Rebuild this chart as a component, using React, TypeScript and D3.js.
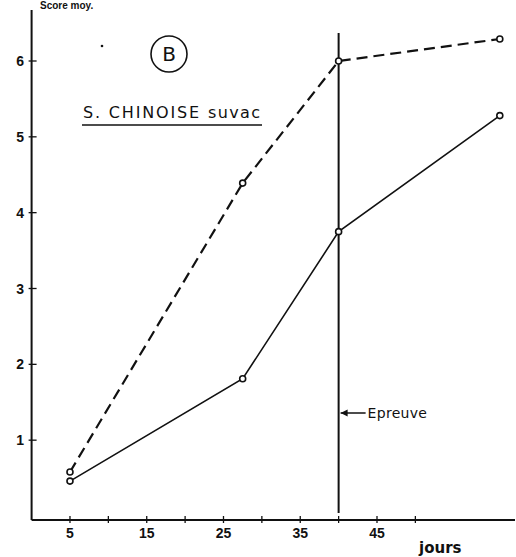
import React from "react";
import * as d3 from "d3";

const days = [5, 27.5, 40, 61];
const dashedSeries = [0.58, 4.39, 6.0, 6.29];
const solidSeries = [0.46, 1.81, 3.75, 5.28];
const yTicks = [1, 2, 3, 4, 5, 6];
const xMinorTicks = [5, 10, 15, 20, 25, 30, 35, 40, 45, 50];
const xLabelTicks = [5, 15, 25, 35, 45];
const challengeDay = 40;

const W = 516;
const H = 557;

export default function App() {
  const x = d3.scaleLinear().domain([0, 45]).range([31.6, 377]);
  const y = d3.scaleLinear().domain([0, 6]).range([516, 61]);
  const axisY = 520;
  const line = d3
    .line<number>()
    .x((_, i) => x(days[i]))
    .y((v) => y(v));
  const font = "'Liberation Sans', 'DejaVu Sans', Arial, sans-serif";
  const wide = "'DejaVu Sans', 'Liberation Sans', Arial, sans-serif";
  return (
    <div style={{ position: "fixed", left: 0, top: 0 }}>
      <svg width={W} height={H} style={{ display: "block", background: "#fff" }} fontFamily={font}>
        {/* top label (cut off in the source scan) */}
        <text x={40} y={9} fontSize={10} fontWeight="bold" fill="#111">
          Score moy.
        </text>
        {/* axes */}
        <line x1={x(0)} x2={x(0)} y1={10} y2={axisY} stroke="#111" strokeWidth={2} />
        <line x1={x(0)} x2={515} y1={axisY} y2={axisY} stroke="#111" strokeWidth={2} />
        {yTicks.map((t) => (
          <g key={"y" + t}>
            <line x1={x(0) - 3} x2={x(0) + 5} y1={y(t)} y2={y(t)} stroke="#111" strokeWidth={1.3} />
            <text x={24} y={y(t) + 5} fontSize={14} fontWeight="bold" textAnchor="end" fill="#111">
              {t}
            </text>
          </g>
        ))}
        {xMinorTicks.map((t) => (
          <line key={"x" + t} x1={x(t)} x2={x(t)} y1={axisY - 4} y2={axisY + 3} stroke="#111" strokeWidth={1.3} />
        ))}
        {xLabelTicks.map((t) => (
          <text key={"xl" + t} x={x(t)} y={axisY + 18} fontSize={14} fontWeight="bold" textAnchor="middle" fill="#111">
            {t}
          </text>
        ))}
        <text x={419} y={553} fontSize={15} fontWeight="bold" fill="#111" fontFamily={wide}>
          jours
        </text>
        {/* challenge line */}
        <line x1={x(challengeDay)} x2={x(challengeDay)} y1={33} y2={513} stroke="#111" strokeWidth={2} />
        <line x1={x(challengeDay) + 2} x2={x(challengeDay) + 27} y1={413} y2={413} stroke="#111" strokeWidth={1.5} />
        <path d={`M${x(challengeDay) + 2},413 l7,-3.5 l0,7 z`} fill="#111" />
        <text x={x(challengeDay) + 29} y={418} fontSize={14} fill="#111" fontFamily={wide} letterSpacing={0.3}>
          Epreuve
        </text>
        {/* series */}
        <path d={line(dashedSeries) || ""} fill="none" stroke="#111" strokeWidth={2.2} strokeDasharray="11,6" />
        <path d={line(solidSeries) || ""} fill="none" stroke="#111" strokeWidth={1.6} />
        {dashedSeries.map((v, i) => (
          <circle key={"d" + i} cx={x(days[i])} cy={y(v)} r={3} fill="#fff" stroke="#111" strokeWidth={1.6} />
        ))}
        {solidSeries.map((v, i) => (
          <circle key={"s" + i} cx={x(days[i])} cy={y(v)} r={3} fill="#fff" stroke="#111" strokeWidth={1.6} />
        ))}
        {/* annotations */}
        <circle cx={169} cy={54} r={18} fill="none" stroke="#111" strokeWidth={1.6} />
        <text x={169} y={61} fontSize={20} textAnchor="middle" fill="#111" fontFamily={wide}>
          B
        </text>
        <text x={83} y={118} fontSize={16} fill="#111" fontFamily={wide} textLength={116} lengthAdjust="spacing">
          S. CHINOISE
        </text>
        <text x={208} y={118} fontSize={16} fill="#111" fontFamily={wide} textLength={52} lengthAdjust="spacing">
          suvac
        </text>
        <line x1={82} x2={262} y1={125} y2={125} stroke="#111" strokeWidth={1.6} />
        <circle cx={102} cy={46} r={1.3} fill="#111" />
      </svg>
    </div>
  );
}
